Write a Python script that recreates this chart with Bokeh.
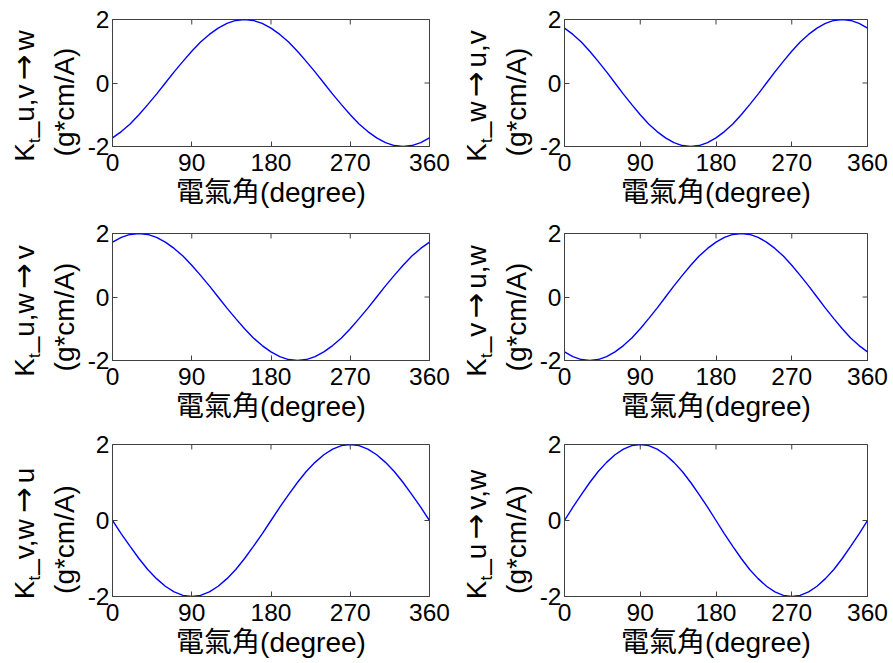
from math import pi
from bokeh.plotting import figure
from bokeh.models import Range1d, FixedTicker
from bokeh.core.properties import value
from bokeh.layouts import column, row
from bokeh.embed import file_html
from bokeh.resources import INLINE

# electrical angle (degree)
angle = [0, 10, 20, 30, 40, 50, 60, 70, 80, 90, 100, 110, 120, 130, 140, 150, 160, 170, 180,
         190, 200, 210, 220, 230, 240, 250, 260, 270, 280, 290, 300, 310, 320, 330, 340, 350, 360]

kt_uv_w = [-1.73, -1.53, -1.29, -1.00, -0.68, -0.35, 0.00, 0.35, 0.68, 1.00, 1.29, 1.53, 1.73,
           1.88, 1.97, 2.00, 1.97, 1.88, 1.73, 1.53, 1.29, 1.00, 0.68, 0.35, 0.00, -0.35,
           -0.68, -1.00, -1.29, -1.53, -1.73, -1.88, -1.97, -2.00, -1.97, -1.88, -1.73]
kt_w_uv = [1.73, 1.53, 1.29, 1.00, 0.68, 0.35, 0.00, -0.35, -0.68, -1.00, -1.29, -1.53, -1.73,
           -1.88, -1.97, -2.00, -1.97, -1.88, -1.73, -1.53, -1.29, -1.00, -0.68, -0.35, 0.00, 0.35,
           0.68, 1.00, 1.29, 1.53, 1.73, 1.88, 1.97, 2.00, 1.97, 1.88, 1.73]
kt_uw_v = [1.73, 1.88, 1.97, 2.00, 1.97, 1.88, 1.73, 1.53, 1.29, 1.00, 0.68, 0.35, 0.00,
           -0.35, -0.68, -1.00, -1.29, -1.53, -1.73, -1.88, -1.97, -2.00, -1.97, -1.88, -1.73,
           -1.53, -1.29, -1.00, -0.68, -0.35, 0.00, 0.35, 0.68, 1.00, 1.29, 1.53, 1.73]
kt_v_uw = [-1.73, -1.88, -1.97, -2.00, -1.97, -1.88, -1.73, -1.53, -1.29, -1.00, -0.68, -0.35, 0.00,
           0.35, 0.68, 1.00, 1.29, 1.53, 1.73, 1.88, 1.97, 2.00, 1.97, 1.88, 1.73,
           1.53, 1.29, 1.00, 0.68, 0.35, 0.00, -0.35, -0.68, -1.00, -1.29, -1.53, -1.73]
kt_vw_u = [0.00, -0.35, -0.68, -1.00, -1.29, -1.53, -1.73, -1.88, -1.97, -2.00, -1.97, -1.88, -1.73,
           -1.53, -1.29, -1.00, -0.68, -0.35, 0.00, 0.35, 0.68, 1.00, 1.29, 1.53, 1.73,
           1.88, 1.97, 2.00, 1.97, 1.88, 1.73, 1.53, 1.29, 1.00, 0.68, 0.35, 0.00]
kt_u_vw = [0.00, 0.35, 0.68, 1.00, 1.29, 1.53, 1.73, 1.88, 1.97, 2.00, 1.97, 1.88, 1.73,
           1.53, 1.29, 1.00, 0.68, 0.35, 0.00, -0.35, -0.68, -1.00, -1.29, -1.53, -1.73,
           -1.88, -1.97, -2.00, -1.97, -1.88, -1.73, -1.53, -1.29, -1.00, -0.68, -0.35, 0.00]

x_ticks = [0, 90, 180, 270, 360]
y_ticks = [-2, 0, 2]
y_tick_labels = {-2: "-2", 0: "0", 2: "2"}
x_label = "電氣角(degree)"
unit_label = "(g*cm/A)"
subs = ["u,v→w", "w→u,v", "u,w→v", "v→u,w", "v,w→u", "u→v,w"]
series = [kt_uv_w, kt_w_uv, kt_uw_v, kt_v_uw, kt_vw_u, kt_u_vw]

FONT = "'Liberation Sans', 'Noto Sans CJK TC', sans-serif"
LAT = "'Liberation Sans', sans-serif"
ARROW_FONT = "'DejaVu Sans', sans-serif"
FRAME = "#404040"
TICK_FS = "24.5px"
LAB = 28                      # label font size, px
SUB = 17                      # subscript font size, px
ARROW_FS = 31                 # arrow font size, px
ARROW_ADV = 34                # room given to the arrow, px
MID = 0.3465                  # middle-of-box above baseline, em
ADV = {"K": 0.667, "t": 0.278, "_": 0.556, "u": 0.556, ",": 0.278, "v": 0.500, "w": 0.722}
X_MIN, X_MAX = 0, 360
Y_MIN, Y_MAX = -2, 2


def width_of(s, size):
    return sum(ADV[c] for c in s) * size


def label_fig(sub, width, row_h, frame_left_rel, center_from_top):
    """Narrow figure that carries the rotated two-line y-axis label of one subplot."""
    p = figure(frame_width=width, frame_height=row_h, output_backend="svg",
               toolbar_location=None, x_axis_type=None, y_axis_type=None,
               x_range=Range1d(0, width), y_range=Range1d(0, row_h),
               min_border_left=0, min_border_right=0, min_border_top=0, min_border_bottom=0)
    p.grid.visible = False
    p.outline_line_color = None
    p.background_fill_color = "white"
    p.border_fill_color = "white"

    def put(txt, xb, y, font, size, align="left"):
        p.text(x=[xb - MID * size], y=[y], text=[txt], angle=pi / 2, text_font=value(font),
               text_font_size=f"{size}px", text_align=align, text_baseline="middle",
               text_color="black")

    left_part, right_part = ("_" + sub).split("→")
    w_k = width_of("K", LAB)
    w_t = width_of("t", SUB) + 1
    w_l = width_of(left_part, LAB)
    w_r = width_of(right_part, LAB)
    total = w_k + w_t + w_l + ARROW_ADV + w_r

    base1 = frame_left_rel - 78
    y0 = row_h - (center_from_top - 6 + total / 2)
    put("K", base1, y0, LAT, LAB)
    put("t", base1 + 6, y0 + w_k, LAT, SUB)
    put(left_part, base1, y0 + w_k + w_t, LAT, LAB)
    put("→", base1 - 1, y0 + w_k + w_t + w_l + ARROW_ADV / 2, ARROW_FONT, ARROW_FS, "center")
    put(right_part, base1, y0 + w_k + w_t + w_l + ARROW_ADV, LAT, LAB)

    put(unit_label, frame_left_rel - 38, row_h - center_from_top, LAT, LAB, "center")
    return p


def make(vals, left, right, top, bottom, fw, fh):
    p = figure(frame_width=fw, frame_height=fh, output_backend="svg", toolbar_location=None,
               x_range=Range1d(X_MIN, X_MAX), y_range=Range1d(Y_MIN, Y_MAX),
               min_border_left=left, min_border_right=right,
               min_border_top=top, min_border_bottom=bottom)
    p.grid.visible = False
    p.outline_line_color = FRAME
    p.outline_line_width = 1
    p.background_fill_color = "white"
    p.border_fill_color = "white"
    p.line(angle, vals, line_color="#0000ff", line_width=1.4)

    # mirrored inward ticks on the top and right edges (half of each dash is clipped)
    p.scatter(x_ticks, [Y_MAX] * len(x_ticks), marker="dash", angle=pi / 2, size=10,
              line_color=FRAME, line_width=1)
    p.scatter([X_MAX] * len(y_ticks), y_ticks, marker="dash", size=10,
              line_color=FRAME, line_width=1)

    for ax in (p.xaxis[0], p.yaxis[0]):
        ax.major_tick_in = 5
        ax.major_tick_out = 0
        ax.minor_tick_line_color = None
        ax.axis_line_color = FRAME
        ax.major_tick_line_color = FRAME
        ax.major_label_text_font = FONT
        ax.major_label_text_font_size = TICK_FS
        ax.major_label_text_color = "black"
    p.xaxis[0].ticker = FixedTicker(ticks=x_ticks)
    p.yaxis[0].ticker = FixedTicker(ticks=y_ticks)
    p.yaxis[0].major_label_overrides = y_tick_labels
    p.xaxis[0].major_label_standoff = 7
    p.yaxis[0].major_label_standoff = 3
    p.xaxis[0].axis_label = x_label
    p.xaxis[0].axis_label_text_font = FONT
    p.xaxis[0].axis_label_text_font_size = f"{LAB}px"
    p.xaxis[0].axis_label_text_font_style = "normal"
    p.xaxis[0].axis_label_text_color = "black"
    p.xaxis[0].axis_label_standoff = 3
    return p


rows_cfg = [(19, 67, 127), (20, 65, 127), (19, 67, 152)]
LW_L, LW_R = 84, 78          # widths of the label strips
FL_L, FL_R = 112, 564 - 458  # frame left, relative to the start of each column
figs = []
for r, (top, bottom, fh) in enumerate(rows_cfg):
    row_h = top + fh + bottom
    center = top + fh / 2
    ll = label_fig(subs[2 * r], LW_L, row_h, FL_L, center)
    pl = make(series[2 * r], FL_L - LW_L, 29, top, bottom, 317, fh)
    lr = label_fig(subs[2 * r + 1], LW_R, row_h, FL_R, center)
    pr = make(series[2 * r + 1], FL_R - LW_R, 26, top, bottom, 303, fh)
    figs.append(row(ll, pl, lr, pr, spacing=0))

layout = column(*figs, spacing=0)
open("out.html", "w").write(file_html(layout, INLINE))
